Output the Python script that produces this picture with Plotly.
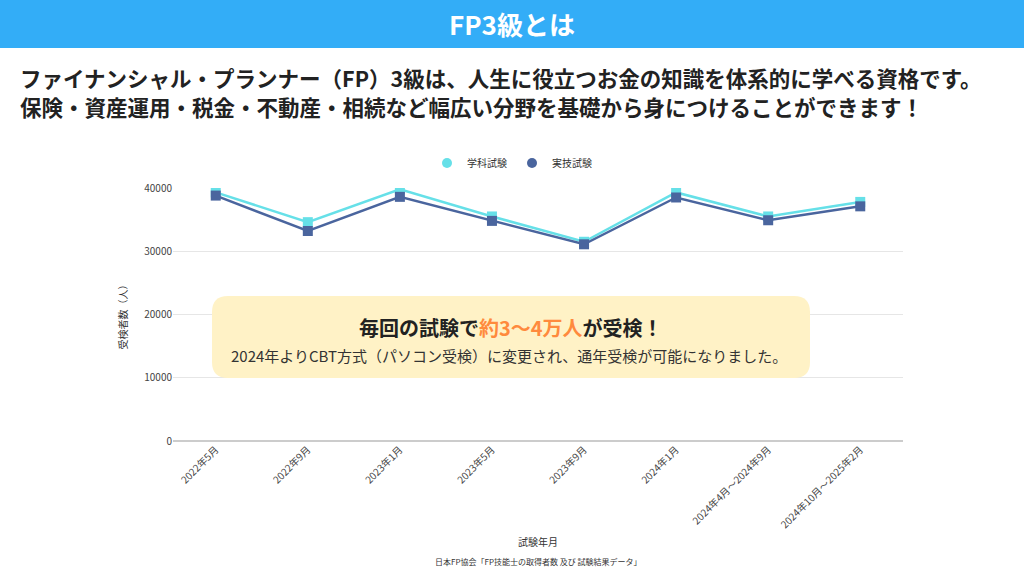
import plotly.graph_objects as go

cats = ["2022年5月","2022年9月","2023年1月","2023年5月","2023年9月","2024年1月","2024年4月～2024年9月","2024年10月～2025年2月"]
gakka = [39300, 34600, 39800, 35500, 31500, 39300, 35500, 37800]
jitsugi = [38800, 33200, 38600, 34800, 31100, 38500, 34900, 37100]
names = ["学科試験", "実技試験"]
colors = ["#66e0e8", "#4a659e"]

F = "Noto Sans CJK JP"
fig = go.Figure()
for n, v, c in zip(names, [gakka, jitsugi], colors):
    fig.add_trace(go.Scatter(x=cats, y=v, mode="lines+markers", name=n, showlegend=False,
                             line=dict(color=c, width=2.5), marker=dict(symbol="square", size=10, color=c)))
for n, c in zip(names, colors):
    fig.add_trace(go.Scatter(x=[None], y=[None], mode="markers", name=n,
                             marker=dict(symbol="circle", size=10, color=c)))

def ann(text, x, y, size, color, xanchor="center"):
    return dict(text=text, x=x/1024, y=1-y/576, xref="paper", yref="paper", xanchor=xanchor,
                yanchor="middle", showarrow=False, font=dict(size=size, color=color))

fig.update_layout(
    width=1024, height=576, paper_bgcolor="white", plot_bgcolor="white",
    margin=dict(l=0, r=0, t=0, b=0, autoexpand=False),
    font=dict(family=F, color="#333"),
    xaxis=dict(domain=[173/1024, 903/1024], tickangle=-45, tickfont=dict(size=10, color="#444"),
               showgrid=False, showline=False, ticks="", automargin=False),
    yaxis=dict(domain=[1-441/576, 1-188/576], range=[0, 40000], tickvals=[0,10000,20000,30000,40000],
               tickformat="d", automargin=False,
               showgrid=True, gridcolor="#e6e6e6", zeroline=True, zerolinecolor="#ccc",
               tickfont=dict(size=10, color="#444"), ticks="",
               title=dict(text="受検者数（人）", font=dict(size=10), standoff=14)),
    legend=dict(orientation="h", x=0.5, xanchor="center", y=1-163/576, yanchor="middle",
                font=dict(size=10), bgcolor="rgba(0,0,0,0)"),
    shapes=[
        dict(type="rect", xref="paper", yref="paper", x0=-1, x1=2, y0=1-48/576, y1=1.2,
             fillcolor="#33adf7", line=dict(width=0), layer="below"),
        dict(type="path", xref="paper", yref="paper",
             path="M {a},{b} L {c},{b} Q {d},{b} {d},{e} L {d},{f} Q {d},{g} {c},{g} L {a},{g} Q {h},{g} {h},{f} L {h},{e} Q {h},{b} {a},{b} Z".format(
                 a=228/1024, c=794/1024, d=810/1024, h=212/1024,
                 b=1-296/576, e=1-312/576, f=1-362/576, g=1-378/576),
             fillcolor="#fff2c6", line=dict(width=0), layer="above"),
    ],
    annotations=[
        ann("<b>FP3級とは</b>", 512, 23, 26, "white"),
        ann("<b>ファイナンシャル・プランナー（FP）3級は、人生に役立つお金の知識を体系的に学べる資格です。</b>", 18, 78, 21.5, "#222", "left"),
        ann("<b>保険・資産運用・税金・不動産・相続など幅広い分野を基礎から身につけることができます！</b>", 18, 107, 21.5, "#222", "left"),
        ann("<b>毎回の試験で<span style='color:#ff8a3d'>約3～4万人</span>が受検！</b>", 511, 327, 20, "#222"),
        ann("2024年よりCBT方式（パソコン受検）に変更され、通年受検が可能になりました。", 509, 355, 15, "#333"),
        ann("試験年月", 538, 541, 10, "#333"),
        ann("日本FP協会「FP技能士の取得者数 及び 試験結果データ」", 538, 561, 8, "#333"),
    ],
)
fig.write_html("out.html", config={"displayModeBar": False},
               post_script="document.body.style.margin='0';document.body.style.overflow='hidden';")
